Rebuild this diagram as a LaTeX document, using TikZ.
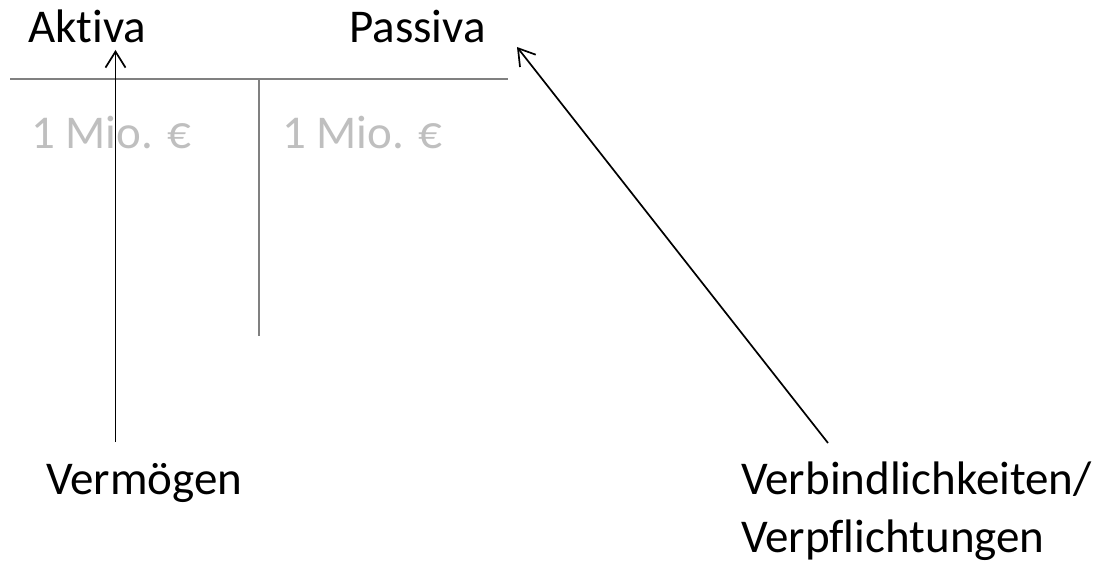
\documentclass[tikz,border=0pt]{standalone}
\usepackage{fontspec}
\setmainfont{Carlito}[Ligatures=NoCommon]
\usetikzlibrary{arrows.meta}
\definecolor{rulegray}{HTML}{808080}
\definecolor{valgray}{HTML}{BFBFBF}
\begin{document}
\begin{tikzpicture}[x=1pt,y=-1pt,
  lbl/.style={inner sep=0pt,anchor=base west,font=\fontsize{47}{59}\selectfont},
  val/.style={lbl,text=valgray},
  rule/.style={draw=rulegray,line width=1.8pt},
  pointer/.style={draw=black,line width=1.7pt,-{Straight Barb[length=16pt,width=20pt,line width=1.7pt]}}]
\useasboundingbox (0,0) rectangle (1101,561);
\node[lbl] (aktiva) at (28,43) {Aktiva};
\node[lbl] (passiva) at (349,43) {Passiva};
\node[val] (v1) at (31,149) {1 Mio. €};
\node[val] (v2) at (282,149) {1 Mio. €};
\node[lbl] (verm) at (46,494) {Vermögen};
\node[lbl] (verb) at (741,494) {Verbindlichkeiten/};
\node[lbl] (verp) at (741,552) {Verpflichtungen};
\coordinate (hl) at (10,79);
\coordinate (hr) at (508,79);
\coordinate (vt) at (259,79);
\coordinate (vb) at (259,336);
\draw[rule] (hl) -- (hr);
\draw[rule] (vt) -- (vb);
\coordinate (a1s) at (115.5,442);
\coordinate (a1e) at (115.5,50);
\coordinate (a2s) at (828,443);
\coordinate (a2e) at (517,47);
\draw[pointer] (a1s) -- (a1e);
\draw[pointer] (a2s) -- (a2e);
\end{tikzpicture}
\end{document}
